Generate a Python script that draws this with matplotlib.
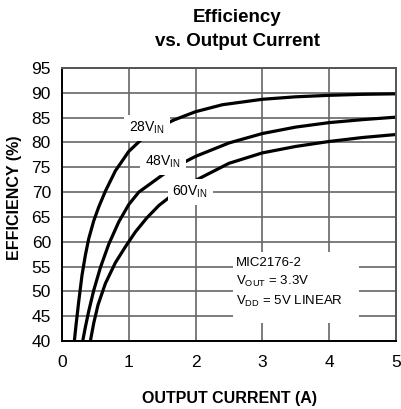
import numpy as np
import matplotlib
matplotlib.use('Agg')
import matplotlib.pyplot as plt
from matplotlib.patches import Rectangle

plt.rcParams['font.family'] = ['Liberation Sans', 'DejaVu Sans']
plt.rcParams['mathtext.fontset'] = 'custom'
plt.rcParams['mathtext.rm'] = 'Liberation Sans'
plt.rcParams['mathtext.it'] = 'Liberation Sans'

# values
x_28v = [0.185, 0.21, 0.25, 0.3, 0.35, 0.4, 0.475, 0.55, 0.65, 0.8, 1.0, 1.22,
         1.45, 1.67, 2.0, 2.4, 3.0, 3.5, 4.0, 4.5, 5.0]
eff_28v = [40, 43.2, 47.9, 53.3, 57.3, 60.6, 64.2, 67.0, 70.2, 74.3, 78.2, 81.0,
           83.0, 84.5, 86.2, 87.6, 88.7, 89.2, 89.5, 89.7, 89.8]

x_48v = [0.31, 0.35, 0.4, 0.475, 0.575, 0.7, 0.85, 1.0, 1.15, 1.52,
         1.87, 2.0, 2.5, 3.0, 3.5, 4.0, 4.5, 5.0]
eff_48v = [40, 42.8, 46.0, 50.2, 54.8, 59.5, 64.0, 67.5, 70.0, 73.6,
           76.3, 77.2, 79.9, 81.8, 83.1, 84.0, 84.6, 85.1]

x_60v = [0.425, 0.475, 0.54, 0.65, 0.8, 0.95, 1.1, 1.27, 1.45, 1.65,
         2.02, 2.5, 3.0, 3.5, 4.0, 4.5, 5.0]
eff_60v = [40, 43.6, 47.3, 51.6, 55.8, 59.0, 62.0, 64.8, 67.3, 69.4,
           72.5, 75.8, 77.9, 79.2, 80.2, 81.0, 81.6]

x_ticks = [0, 1, 2, 3, 4, 5]
y_ticks = [40, 45, 50, 55, 60, 65, 70, 75, 80, 85, 90, 95]

fig = plt.figure(figsize=(4.01, 4.09), dpi=100)
ax = fig.add_axes([0.1546, 0.1663, 0.8329, 0.6674])

ax.set_xlim(0, 5)
ax.set_ylim(40, 95)
ax.set_xticks(x_ticks)
ax.set_yticks(y_ticks)
ax.grid(True, color='#666666', linewidth=1.2)
ax.set_axisbelow(True)
for s in ax.spines.values():
    s.set_color('#555555')
    s.set_linewidth(1.4)
ax.spines['bottom'].set_color('black')
ax.spines['left'].set_color('black')
ax.tick_params(length=0, labelsize=12.5)
ax.tick_params(axis='x', pad=10)
ax.tick_params(axis='y', pad=8)

for xs, ys in [(x_28v, eff_28v), (x_48v, eff_48v), (x_60v, eff_60v)]:
    ax.plot(xs, ys, color='black', linewidth=2.3, solid_capstyle='butt',
            solid_joinstyle='round')

box = dict(facecolor='white', edgecolor='none', pad=3.5)
ax.text(1.27, 82.9, r'28V$_{\mathrm{IN}}$', fontsize=10, ha='center', va='center', bbox=box)
ax.text(1.51, 76.1, r'48V$_{\mathrm{IN}}$', fontsize=10, ha='center', va='center', bbox=box)
ax.text(1.92, 70.0, r'60V$_{\mathrm{IN}}$', fontsize=10, ha='center', va='center', bbox=box)

ax.add_patch(Rectangle((2.565, 43.6), 1.875, 14.3, facecolor='white',
                       edgecolor='none', zorder=1.5))
ax.text(2.61, 55.7, 'MIC2176-2', fontsize=9.5, ha='left', va='center')
ax.text(2.61, 51.9, r'V$_{\mathrm{OUT}}$ = 3.3V', fontsize=9.5, ha='left', va='center')
ax.text(2.61, 47.9, r'V$_{\mathrm{DD}}$ = 5V LINEAR', fontsize=9.5, ha='left', va='center')

fig.text(230 / 401, 1 - 398 / 409, 'OUTPUT CURRENT (A)', fontsize=11.5,
         fontweight='bold', ha='center', va='center')
fig.text(15 / 401, 1 - 198 / 409, 'EFFICIENCY (%)', fontsize=11.5,
         fontweight='bold', ha='center', va='center', rotation=90)
fig.text(237 / 401, 1 - 18 / 409, 'Efficiency', fontsize=13.5,
         fontweight='bold', ha='center', va='center')
fig.text(237 / 401, 1 - 42 / 409, 'vs. Output Current', fontsize=13.5,
         fontweight='bold', ha='center', va='center')

fig.savefig('out.png', dpi=100)
